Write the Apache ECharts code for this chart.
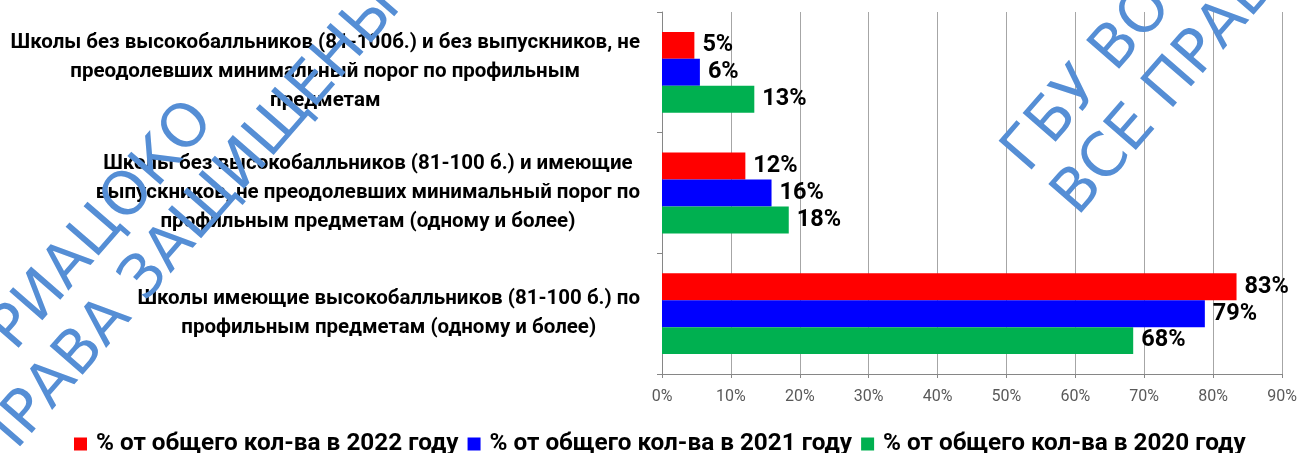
<!DOCTYPE html>
<html>
<head>
<meta charset="utf-8">
<script src="https://cdn.jsdelivr.net/npm/echarts@6/dist/echarts.min.js"></script>
<style>
  html, body { margin: 0; padding: 0; background: #fff; }
  #chart { width: 1300px; height: 453px; }
</style>
</head>
<body>
<div id="chart"></div>
<script>
  // категории сверху вниз (строки подписи разбиты как в оригинале)
  const categories = [
    "Школы без высокобалльников (81-100б.) и без выпускников, не\nпреодолевших минимальный порог по профильным\nпредметам",
    "Школы без высокобалльников (81-100 б.) и имеющие\nвыпускников, не преодолевших минимальный порог по\nпрофильным предметам (одному и более)",
    "Школы имеющие высокобалльников (81-100 б.) по\nпрофильным предметам (одному и более)"
  ];
  const seriesNames = [
    "% от общего кол-ва в 2022 году",
    "% от общего кол-ва в 2021 году",
    "% от общего кол-ва в 2020 году"
  ];
  // длины столбцов (подписи округлены до целых)
  const values2022 = [4.7, 12.1, 83.4];
  const values2021 = [5.5, 15.9, 78.8];
  const values2020 = [13.4, 18.4, 68.4];
  const xTicks = [0, 10, 20, 30, 40, 50, 60, 70, 80, 90];

  const colors = ["#ff0000", "#0000ff", "#00b050"];
  const font = "Roboto";

  const chart = echarts.init(document.getElementById("chart"));

  function makeSeries(name, data, color) {
    return {
      name: name,
      type: "bar",
      data: data,
      barGap: "0%",
      barCategoryGap: "33%",
      itemStyle: { color: color },
      label: {
        show: true,
        position: "right",
        distance: 8,
        formatter: p => Math.round(p.value) + "%",
        color: "#000",
        fontFamily: font,
        fontWeight: "bold",
        fontSize: 23.5
      }
    };
  }

  // водяной знак
  function stamp(x, y) {
    return {
      type: "text",
      x: x, y: y,
      rotation: 0.855,
      silent: true,
      z: 100,
      style: {
        text: "ГБУ ВО РИАЦОКО\nВСЕ ПРАВА ЗАЩИЩЕНЫ",
        fill: "#558ed5",
        font: "60px 'DejaVu Sans'",
        lineHeight: 66,
        verticalAlign: "top"
      }
    };
  }

  chart.setOption({
    animation: false,
    grid: { left: 662, right: 18, top: 12, bottom: 79 },
    legend: {
      top: 427,
      left: 69,
      itemWidth: 13,
      itemHeight: 13,
      itemGap: 9,
      icon: "rect",
      textStyle: { fontFamily: font, fontWeight: "bold", fontSize: 24.3, color: "#000", padding: [0, 0, 0, 4] },
      data: seriesNames
    },
    xAxis: {
      type: "value",
      min: 0,
      max: 90,
      interval: 10,
      axisLine: { show: true, lineStyle: { color: "#868686" } },
      axisTick: { show: true, length: 4, lineStyle: { color: "#868686" } },
      splitLine: { show: true, lineStyle: { color: "#a6a6a6" } },
      axisLabel: {
        margin: 15,
        color: "#595959",
        fontFamily: font,
        fontSize: 16,
        formatter: v => (xTicks.includes(v) ? v + "%" : "")
      }
    },
    yAxis: {
      type: "category",
      inverse: true,
      data: categories,
      axisLine: { show: true, lineStyle: { color: "#868686" } },
      axisTick: { show: true, length: 5, lineStyle: { color: "#868686" } },
      axisLabel: {
        margin: 22,
        align: "right",
        formatter: v => v.split("\n").map(s => "{c|" + s + "}").join("\n"),
        rich: {
          c: {
            align: "center",
            fontFamily: font,
            fontWeight: "bold",
            fontSize: 20.5,
            lineHeight: 29,
            color: "#000"
          }
        }
      }
    },
    series: [
      makeSeries(seriesNames[0], values2022, colors[0]),
      makeSeries(seriesNames[1], values2021, colors[1]),
      makeSeries(seriesNames[2], values2020, colors[2])
    ],
    graphic: [stamp(991, 142), stamp(-180, 502)]
  });

  window.addEventListener("resize", () => chart.resize());
</script>
</body>
</html>
